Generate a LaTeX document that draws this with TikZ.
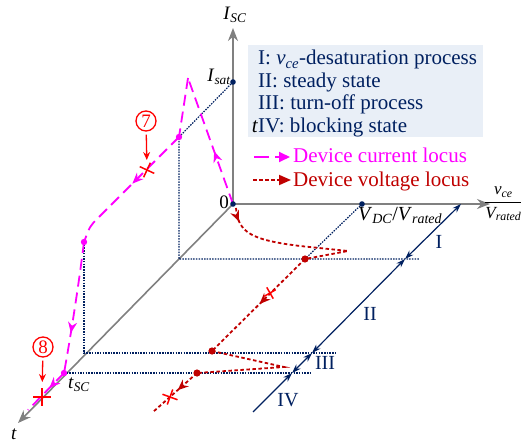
\documentclass[tikz,border=0pt]{standalone}
\usepackage{amsmath}
\usepackage{fontspec}
\setmainfont{Liberation Serif}
\usetikzlibrary{arrows.meta,decorations.markings}

\definecolor{navyblue}{RGB}{0,32,96}
\definecolor{locuspink}{RGB}{255,0,255}
\definecolor{locusred}{RGB}{192,0,0}
\definecolor{axisgray}{RGB}{128,128,128}
\definecolor{legendfill}{RGB}{233,239,247}

\begin{document}
\begin{tikzpicture}[
  x=1pt, y=-1pt,
  font=\fontsize{18}{20}\selectfont,
  axis/.style={axisgray, line width=1.6pt, -{Stealth[length=13pt,width=10pt]}},
  guide/.style={navyblue, line width=1.2pt, dash pattern=on 1.5pt off 1.2pt},
  stateline/.style={navyblue, line width=1.2pt},
  statetip/.style={{Stealth[length=9pt,width=6pt]}-{Stealth[length=9pt,width=6pt]}},
  curlocus/.style={locuspink, line width=1.8pt, dash pattern=on 11pt off 6pt},
  voltlocus/.style={locusred, line width=1.8pt, dash pattern=on 3.5pt off 2.5pt},
  midarrow/.style={postaction={decorate, decoration={markings,
    mark=at position #1 with {\arrow{Stealth[length=11pt,width=9pt]}}}}},
  crossmark/.style={red, line width=1.5pt},
  pointer/.style={red, line width=1.3pt, -{Stealth[length=8pt,width=7pt]}},
  circnum/.style={circle, draw=red, line width=1.3pt, text=red, inner sep=0pt,
    minimum size=20pt, font=\fontsize{19}{19}\selectfont},
  legtext/.style={anchor=base west, text=navyblue, font=\fontsize{21}{23}\selectfont, inner sep=0pt},
  statelabel/.style={text=navyblue, font=\fontsize{20}{22}\selectfont, inner sep=0pt},
  axislabel/.style={inner sep=0pt, font=\fontsize{19}{21}\selectfont}
]
\useasboundingbox (0,0) rectangle (521,443);

% Legend panel.
\fill[legendfill] (248,45) rectangle (483,137);
\node[legtext] (leg1) at (258,65) {I: \textit{v}\textsubscript{\textit{ce}}-desaturation process};
\node[legtext] (leg2) at (258,88) {II: steady state};
\node[legtext] (leg3) at (258,110) {III: turn-off process};
\node[legtext] (leg4) at (258,133) {IV: blocking state};
\node[anchor=base east, inner sep=0pt, font=\fontsize{21}{23}\selectfont\itshape] (legt) at (leg4.base west) {t};

\node[legtext, text=locuspink] (legcur) at (293,163) {Device current locus};
\node[legtext, text=locusred] (legvol) at (293,187) {Device voltage locus};
\draw[curlocus, dash pattern=on 15pt off 6pt, -{Triangle[length=11pt,width=10pt]}] (254,157) -- (290,157);
\draw[voltlocus, -{Triangle[length=12pt,width=10pt]}] (253,180) -- (291,180);

% --------------------------------------------------------------------------
% Axes.
% --------------------------------------------------------------------------
\coordinate (O) at (233,204);
\coordinate (Isat) at (233,82);
\coordinate (VDC) at (362,204);
\draw[axis] (O) -- (233,28);
\draw[axis] (O) -- (490,204);
\draw[axis] (O) -- (18,423);
\node[axislabel] (isc) at (235,15) {\textit{I}\textsubscript{\textit{SC}}};
\node[axislabel, anchor=east] (isatlabel) at (231,77) {\textit{I}\textsubscript{\textit{sat}}};
\node[axislabel, anchor=east] (zero) at (229,202) {0};
\node[axislabel, anchor=north west, font=\fontsize{20}{22}\selectfont] (vdclabel) at (358,207) {\textit{V}\textsubscript{\textit{DC}}/\textit{V}\textsubscript{\textit{rated}}};
\node[axislabel, anchor=west, font=\fontsize{17}{19}\selectfont] (vcelabel) at (484,204) {$\dfrac{\textit{v}_{\textit{ce}}}{\textit{V}_{\textit{rated}}}$};
\node[axislabel] (tlabel) at (14,434) {\textit{t}};
\node[axislabel] (tsclabel) at (79,385) {\textit{t}\textsubscript{\textit{SC}}};

% Projection guides.
\coordinate (P1) at (179,137);
\coordinate (P2) at (84,242);
\coordinate (P3) at (64,373);
\coordinate (A1) at (179,259);
\coordinate (A2) at (84,353);
\coordinate (R1) at (305,259);
\coordinate (R2) at (212,351);
\coordinate (R3) at (197,373);
\draw[guide] (Isat) -- (P1) -- (A1) -- (420,259);
\draw[guide] (VDC) -- (R1);
\draw[guide] (P2) -- (A2) -- (335,353);
\draw[guide] (P3) -- (312,373);

% --------------------------------------------------------------------------
% State line I--IV.
% --------------------------------------------------------------------------
\coordinate (B0) at (253,412);
\coordinate (B1) at (292,373);
\coordinate (B2) at (312,353);
\coordinate (B3) at (405,259);
\coordinate (B4) at (461,204);
\draw[stateline, statetip] (B3) -- (B4);
\draw[stateline, statetip] (B2) -- (B3);
\draw[stateline, statetip] (B1) -- (B2);
\draw[stateline, -{Stealth[length=9pt,width=6pt]}] (B0) -- (B1);
\node[statelabel] (st1) at (439,242) {I};
\node[statelabel] (st2) at (370,314) {II};
\node[statelabel] (st3) at (325,363) {III};
\node[statelabel] (st4) at (288,400) {IV};

% --------------------------------------------------------------------------
% Current locus.
% --------------------------------------------------------------------------
\coordinate (Cpeak) at (188,78);
\draw[curlocus, midarrow=56pt] (O) -- (Cpeak);
\draw[curlocus] (Cpeak) -- (P1);
\draw[curlocus, midarrow=66pt] (P1) -- (98,218) .. controls (90,226) .. (P2);
\draw[curlocus, midarrow=92pt] (P2) .. controls (78,290) and (70,340) .. (P3);
\draw[curlocus, midarrow=21pt] (P3) -- (28,410);

% Voltage locus.
\draw[voltlocus, midarrow=14pt] (236,208) .. controls (238,233) and (252,240) .. (300,246) -- (348,251) -- (R1);
\draw[voltlocus, midarrow=64pt] (R1) -- (R2);
\draw[voltlocus] (R2) -- (284,367) -- (R3);
\draw[voltlocus, midarrow=26pt] (R3) -- (153,412);

% Points.
\foreach \p in {O,Isat,VDC} \fill[navyblue] (\p) circle (2.8pt);
\foreach \p in {P1,P2,P3} \fill[locuspink] (\p) circle (3.2pt);
\foreach \p in {R1,R2,R3} \fill[locusred] (\p) circle (3.6pt);

% Fault crosses and markers.
\foreach \x/\y/\r/\s in {147/170/-25/8, 42/397/0/9, 270/293/30/6.5, 170/397/-20/8}
{
  \begin{scope}[shift={(\x,\y)}, rotate=\r]
    \draw[crossmark] (-\s,0) -- (\s,0);
    \draw[crossmark] (0,-\s) -- (0,\s);
  \end{scope}
}
\coordinate (k7) at (147,170);
\coordinate (k8) at (42,397);
\node[circnum] (c7) at (146,121) {7};
\node[circnum] (c8) at (43,347) {8};
\draw[pointer, shorten <=3pt, shorten >=10pt] (c7) -- (k7);
\draw[pointer, shorten <=3pt, shorten >=15pt] (c8) -- (k8);

\end{tikzpicture}
\end{document}
